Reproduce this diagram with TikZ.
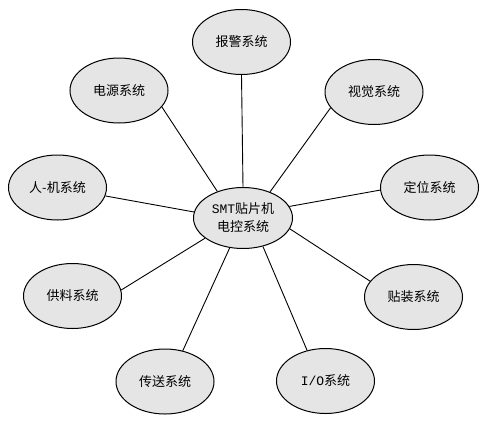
\documentclass[tikz,border=0pt]{standalone}
\usepackage{fontspec}
\setmainfont{Noto Sans CJK SC}
\newfontfamily\latinmono{Liberation Mono}
\usetikzlibrary{shapes.geometric}

\begin{document}
\begin{tikzpicture}[x=1pt,y=-1pt,
  sys/.style={ellipse,draw=black,line width=1pt,fill=gray!20,inner sep=0pt,
    minimum width=98pt,minimum height=65pt,font=\fontsize{13}{18}\selectfont},
  core/.style={sys,minimum width=99pt,minimum height=61pt,align=center},
  link/.style={draw=black,line width=0.9pt}]
\useasboundingbox (0,0) rectangle (490,424);
\node [core] (ctrl) at (243,218) {{\latinmono SMT}贴片机\\电控系统};
\node [sys] (alarm) at (241.5,42) {报警系统};
\node [sys] (power) at (119,90.5) {电源系统};
\node [sys] (vision) at (374,92) {视觉系统};
\node [sys] (hmi) at (57.5,187.5) {人-机系统};
\node [sys] (locate) at (429.5,187.5) {定位系统};
\node [sys] (feed) at (72.5,296) {供料系统};
\node [sys] (mount) at (413.5,297) {贴装系统};
\node [sys] (convey) at (165,381.5) {传送系统};
\node [sys] (io) at (325.5,381) {{\latinmono I/O}系统};
\draw [link] (alarm.south) -- (ctrl.90);
\draw [link] (power.339) -- (ctrl.134);
\draw [link] (vision.200) -- (ctrl.44);
\draw [link] (hmi.350) -- (ctrl.173);
\draw [link] (locate.183) -- (ctrl.14);
\draw [link] (feed.7) -- (ctrl.208);
\draw [link] (mount.160) -- (ctrl.347);
\draw [link] (convey.60) -- (ctrl.246);
\draw [link] (io.121) -- (ctrl.305);
\end{tikzpicture}
\end{document}
